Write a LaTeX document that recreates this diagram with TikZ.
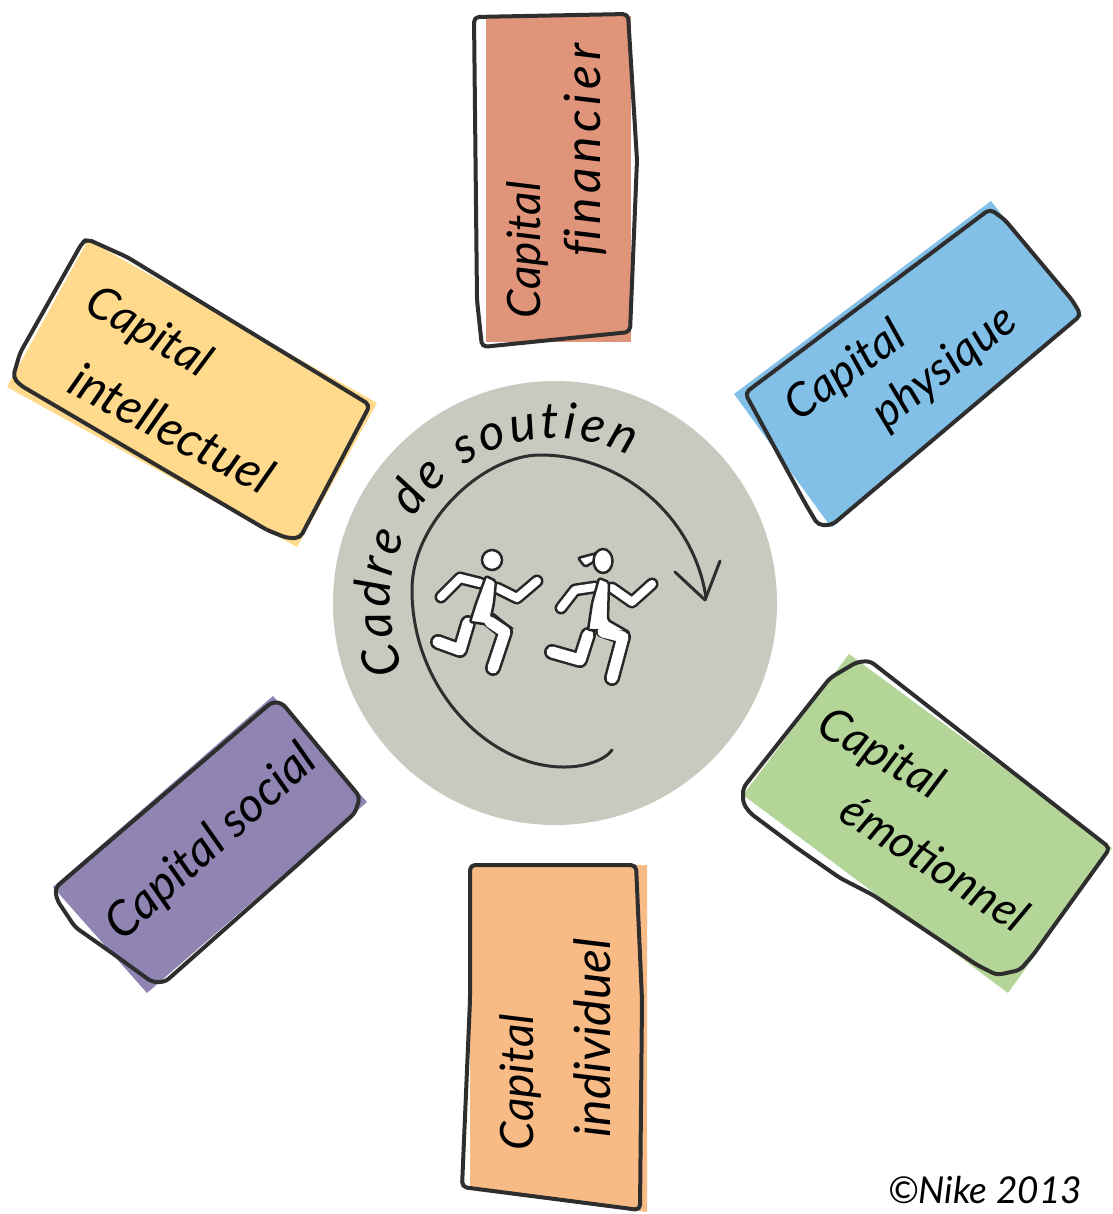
\documentclass[tikz,border=0pt]{standalone}
\usepackage{fontspec}
\setmainfont{Lato}
\usetikzlibrary{decorations.text}
\definecolor{inkline}{HTML}{2E2E2E}
\definecolor{circlegrey}{HTML}{C9C9BF}
\definecolor{financiercol}{HTML}{E0947A}
\definecolor{physiquecol}{HTML}{82C0E8}
\definecolor{emotionnelcol}{HTML}{B4D598}
\definecolor{individuelcol}{HTML}{F8BB85}
\definecolor{socialcol}{HTML}{8F84B2}
\definecolor{intellectuelcol}{HTML}{FFD98C}
\newcommand{\labelfont}[1]{\fontsize{#1}{#1}\selectfont\itshape}
\begin{document}
\begin{tikzpicture}[x=1pt,y=-1pt]
    \tikzset{sketch/.style={draw=inkline, line width=4pt, rounded corners=5pt, line join=round}}
    \tikzset{label/.style={text=black, inner sep=0pt, font=\labelfont{46}}}
    \tikzset{pen/.style={draw=inkline, line width=3pt, line cap=round, line join=round}}
    \tikzset{limb/.style={line cap=round, line join=round}}
    \tikzset{bodyedge/.style={draw=black!85, line width=2.5pt, fill=white, rounded corners=2pt}}
    \useasboundingbox (0,0) rectangle (1112,1214);

    \fill[financiercol] (486,16) -- (631,16) -- (631,342) -- (486,342) -- cycle;
    \draw[sketch] (474,17) -- (628,14) -- (637,160) -- (630,332) -- (482,347) -- (477,300) -- cycle;
    \node[label, rotate=90] (capfinancier) at (527,250) {Capital};
    \node[label, rotate=90, font=\labelfont{50}\addfontfeature{LetterSpace=9}] (financier) at (585,150) {f\kern0pt inancier};

    \fill[physiquecol] (991,201) -- (1082,316) -- (832,527) -- (828,523) -- (734,394) -- cycle;
    \draw[sketch] (745,393) -- (990,209) -- (1005,220) -- (1072,300) -- (1081,315) -- (832,525) -- (818,525) -- (805,503) -- cycle;
    \node[label, rotate=36] (capphysique) at (846,372) {Capital};
    \node[label, rotate=38] (physique) at (945,368) {physique};

    \fill[emotionnelcol] (849,654) -- (1112,848) -- (1008,993) -- (743,795) -- cycle;
    \draw[sketch] (870,661) -- (857,662) -- (830,678) -- (743,788) -- (743,803) -- (750,813) -- (797,848) -- (840,878) -- (873,895) -- (977,965) -- (997,975) -- (1020,970) -- (1033,955) -- (1110,848) -- cycle;
    \node[label, rotate=-30] (capemotionnel) at (880,755) {Capital};
    \node[label, rotate=-33] (emotionnel) at (935,862) {émotionnel};

    \fill[individuelcol] (470,865) -- (647,865) -- (647,1212) -- (470,1190) -- cycle;
    \draw[sketch] (470,865) -- (636,865) -- (642,1000) -- (640,1210) -- (462,1187) -- (470,1000) -- cycle;
    \node[label, rotate=90] (capindividuel) at (520,1082) {Capital};
    \node[label, rotate=90, font=\labelfont{50}] (individuel) at (592,1038) {individuel};

    \fill[socialcol] (273,696) -- (367,802) -- (147,993) -- (53,887) -- cycle;
    \draw[sketch] (55,888) -- (272,702) -- (282,703) -- (360,797) -- (355,813) -- (295,867) -- (165,982) -- (152,982) -- (112,953) -- (75,927) -- (57,900) -- cycle;
    \node[label, rotate=42, font=\labelfont{48}] (capsocial) at (212,843) {Capital social};

    \fill[intellectuelcol] (88,240) -- (377,403) -- (297,547) -- (7,387) -- cycle;
    \draw[sketch] (87,239) -- (127,257) -- (370,405) -- (300,538) -- (287,538) -- (267,530) -- (20,385) -- (13,377) -- (20,353) -- (82,243) -- cycle;
    \node[label, rotate=-30] (capintellectuel) at (148,333) {Capital};
    \node[label, rotate=-28, font=\labelfont{49}] (intellectuel) at (172,428) {intellectuel};

    \fill[circlegrey] (555,603) circle (222);
    \path[postaction={decorate, decoration={text along path, text align={fit to path},
        text={|\labelfont{50}|Cadre de soutien}}}]
        (555,603) ++(156:165) arc (156:297:165);
    \draw[pen] (706,598) .. controls (695,520) and (625,455) .. (540,455)
        .. controls (485,455) and (412,520) .. (412,590)
        .. controls (412,690) and (490,768) .. (565,767)
        .. controls (585,767) and (605,760) .. (612,750);
    \draw[pen] (675,572) -- (705,600) -- (720,561);

    \foreach \w/\a/\b/\c/\d/\e/\f in {8/480/583/460/578/441/597, 8/497/588/517/598/537/581, 11/468/623/460/650/438/642,
        8/595/587/575/590/561/608, 8/612/588/632/602/652/584, 11/588/635/580/660/552/652}
        {
        \draw[limb, draw=black!85, line width=\w pt+5pt] (\a,\b) -- (\c,\d) -- (\e,\f);
        \draw[limb, draw=white, line width=\w pt] (\a,\b) -- (\c,\d) -- (\e,\f);
        }
    \foreach \a/\b/\c/\d/\e/\f in {490/620/505/632/493/668, 603/630/623/637/612/678}
        \draw[limb, draw=black!85, line width=16pt] (\a,\b) -- (\c,\d) -- (\e,\f);
    \draw[bodyedge] (486,576) -- (496,581) -- (494,603) -- (491,617) -- (512,628) -- (470,622) -- (476,603) -- cycle;
    \draw[bodyedge] (599,578) -- (609,582) -- (608,620) -- (629,632) -- (588,630) -- (592,603) -- cycle;
    \foreach \a/\b/\c/\d/\e/\f in {490/622/505/632/493/668, 603/632/623/637/612/678}
        \draw[limb, draw=white, line width=11pt] (\a,\b) -- (\c,\d) -- (\e,\f);
    \draw[bodyedge] (492,560) circle (10);
    \draw[bodyedge] (597,553) -- (578,558) -- (585,567) -- (597,560) -- cycle;
    \draw[bodyedge] (603,561) ellipse (9.5 and 12);

    \node[text=black, inner sep=0pt, font=\labelfont{37}] (copyright) at (985,1190) {©Nike 2013};
\end{tikzpicture}
\end{document}
